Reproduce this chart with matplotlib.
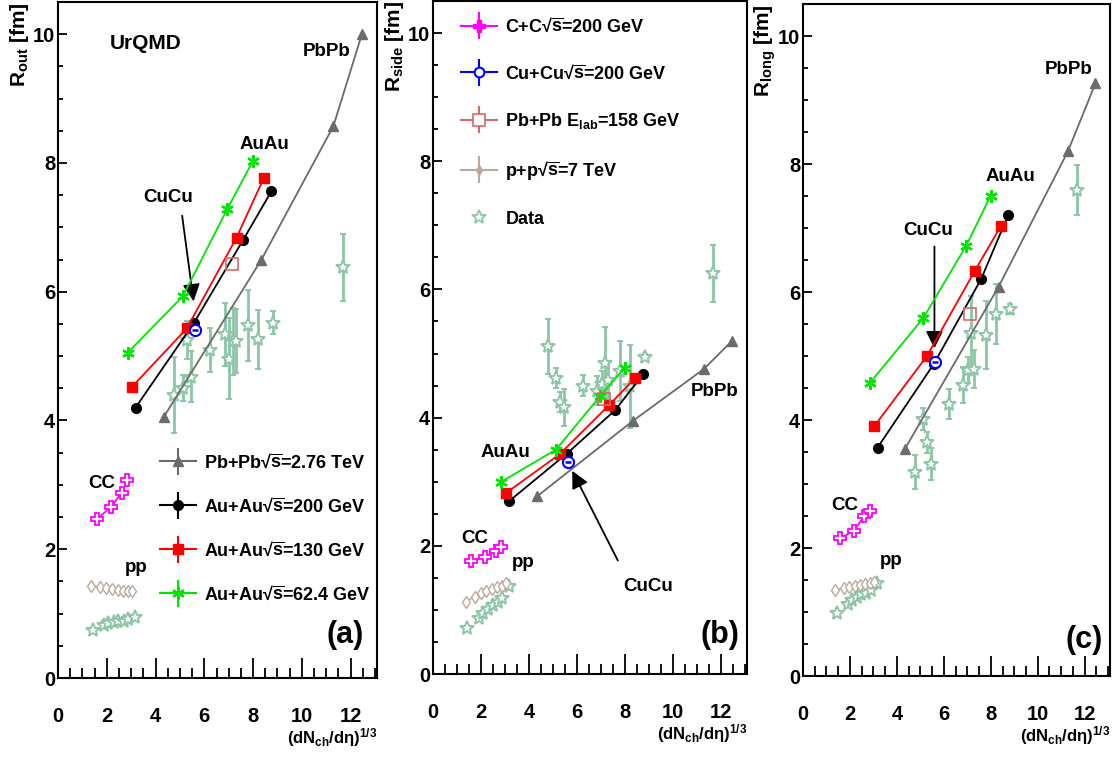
import numpy as np
import matplotlib
matplotlib.use("Agg")
import matplotlib.pyplot as plt
from matplotlib.lines import Line2D
from matplotlib.container import ErrorbarContainer
from matplotlib.legend_handler import HandlerErrorbar
from matplotlib.ticker import MultipleLocator

plt.rcParams['font.family'] = ['Liberation Sans', 'DejaVu Sans']
plt.rcParams['font.weight'] = 'bold'
plt.rcParams['mathtext.fontset'] = 'custom'
plt.rcParams['mathtext.rm'] = 'Liberation Sans:bold'
plt.rcParams['mathtext.it'] = 'Liberation Sans:italic:bold'
plt.rcParams['mathtext.bf'] = 'Liberation Sans:bold'
plt.rcParams['mathtext.sf'] = 'Liberation Sans:bold'

# ---------------- data ----------------
x_pbpb_lhc = [4.33, 8.33, 11.29, 12.46]
x_auau200 = [3.18, 5.58, 7.60, 8.75]
x_auau130 = [3.03, 5.28, 7.32, 8.43]
x_auau62 = [2.85, 5.12, 6.95, 7.99]
x_cc = [1.58, 2.17, 2.61, 2.84]
x_cucu = [5.63]
x_pbpb_sps = [7.12]
x_pp_model = [1.36, 1.73, 1.98, 2.21, 2.44, 2.66, 2.87, 3.04]
x_pp_data = [1.43, 1.90, 2.07, 2.28, 2.48, 2.69, 2.89, 3.17]
x_data = [4.77, 5.11, 5.29, 5.46, 6.24, 6.83, 7.02, 7.17, 7.28, 7.79, 8.22, 8.83, 11.68]

# R_out
rout_pbpb_lhc = [4.05, 6.49, 8.57, 10.0]
rout_auau200 = [4.20, 5.52, 6.81, 7.56]
rout_auau130 = [4.52, 5.43, 6.84, 7.76]
rout_auau62 = [5.05, 5.93, 7.29, 8.03]
rout_cc = [2.47, 2.65, 2.88, 3.07]
rout_cucu = [5.40]
rout_pbpb_sps = [6.43]
rout_pp_model = [1.43, 1.42, 1.40, 1.38, 1.36, 1.35, 1.35, 1.35]
rout_pp_data = [0.75, 0.83, 0.85, 0.87, 0.88, 0.89, 0.91, 0.95]
rout_data = [4.40, 4.51, 5.25, 4.68, 5.09, 5.34, 4.96, 5.23, 5.23, 5.48, 5.26, 5.52, 6.38]
rout_data_err = [0.59, 0.20, 0.29, 0.40, 0.34, 0.49, 0.63, 0.52, 0.50, 0.55, 0.46, 0.18, 0.52]

# R_side
rside_pbpb_lhc = [2.77, 3.95, 4.76, 5.20]
rside_auau200 = [2.70, 3.44, 4.12, 4.68]
rside_auau130 = [2.82, 3.43, 4.19, 4.62]
rside_auau62 = [3.00, 3.50, 4.33, 4.78]
rside_cc = [1.76, 1.83, 1.92, 1.98]
rside_cucu = [3.30]
rside_pbpb_sps = [4.29]
rside_pp_model = [1.13, 1.20, 1.26, 1.30, 1.33, 1.36, 1.38, 1.42]
rside_pp_data = [0.72, 0.87, 0.95, 1.02, 1.08, 1.13, 1.18, 1.37]
rside_data = [5.11, 4.62, 4.24, 4.16, 4.50, 4.42, 4.53, 4.85, 4.58, 4.73, 4.49, 4.95, 6.25]
rside_data_err = [0.43, 0.16, 0.16, 0.29, 0.17, 0.23, 0.20, 0.56, 0.30, 0.47, 0.65, 0.05, 0.44]

# R_long
rlong_pbpb_lhc = [3.54, 6.08, 8.20, 9.26]
rlong_auau200 = [3.57, 4.88, 6.21, 7.21]
rlong_auau130 = [3.90, 5.00, 6.33, 7.03]
rlong_auau62 = [4.58, 5.59, 6.72, 7.50]
rlong_cc = [2.15, 2.27, 2.50, 2.58]
rlong_cucu = [4.90]
rlong_pbpb_sps = [5.66]
rlong_pp_model = [1.35, 1.37, 1.39, 1.41, 1.42, 1.44, 1.45, 1.47]
rlong_pp_data = [0.98, 1.12, 1.18, 1.23, 1.28, 1.30, 1.35, 1.45]
rlong_data = [3.19, 4.02, 3.65, 3.31, 4.25, 4.55, 4.78, 5.36, 4.80, 5.33, 5.66, 5.73, 7.60]
rlong_data_err = [0.27, 0.17, 0.17, 0.25, 0.23, 0.28, 0.20, 0.58, 0.30, 0.53, 0.47, 0.08, 0.39]

SQ = '√$\\overline{\\mathbf{s}}$'
labels_a = ['Pb+Pb' + SQ + '=2.76 TeV', 'Au+Au' + SQ + '=200 GeV',
            'Au+Au' + SQ + '=130 GeV', 'Au+Au' + SQ + '=62.4 GeV']
labels_b = ['C+C' + SQ + '=200 GeV', 'Cu+Cu' + SQ + '=200 GeV',
            'Pb+Pb E$_{\\mathbf{lab}}$=158 GeV', 'p+p' + SQ + '=7 TeV', 'Data']

# ---------------- styles ----------------
C_PB = '#6b6b6b'
C_AU200 = 'black'
C_AU130 = '#ff0000'
C_AU62 = '#00e600'
C_CC = '#ff00ff'
C_CU = '#0000ff'
C_SPS = '#d46a6a'
C_PP = '#bcaa9c'
C_DATA = '#8cc6a6'

fig = plt.figure(figsize=(11.17, 7.57), dpi=100)
W, H = 1117.0, 757.0
axes_px = [(58, 377, 2, 678), (433, 747, 1, 674), (803, 1110, 4, 676)]
axes = []
for l, r, t, b in axes_px:
    axes.append(fig.add_axes([l / W, (H - b) / H, (r - l) / W, (b - t) / H]))

panels = [
    dict(pb=rout_pbpb_lhc, a200=rout_auau200, a130=rout_auau130, a62=rout_auau62, cc=rout_cc,
         cu=rout_cucu, sps=rout_pbpb_sps, ppm=rout_pp_model, ppd=rout_pp_data,
         d=rout_data, de=rout_data_err, sub='out'),
    dict(pb=rside_pbpb_lhc, a200=rside_auau200, a130=rside_auau130, a62=rside_auau62, cc=rside_cc,
         cu=rside_cucu, sps=rside_pbpb_sps, ppm=rside_pp_model, ppd=rside_pp_data,
         d=rside_data, de=rside_data_err, sub='side'),
    dict(pb=rlong_pbpb_lhc, a200=rlong_auau200, a130=rlong_auau130, a62=rlong_auau62, cc=rlong_cc,
         cu=rlong_cucu, sps=rlong_pbpb_sps, ppm=rlong_pp_model, ppd=rlong_pp_data,
         d=rlong_data, de=rlong_data_err, sub='long'),
]

ast = (6, 2, 0)
for ax, p in zip(axes, panels):
    ax.set_xlim(0, 13.08)
    ax.set_ylim(0, 10.5)
    # data
    ax.errorbar(x_data, p['d'], yerr=p['de'], fmt='*', ms=10, mfc='white', mec=C_DATA, mew=1.4,
                ecolor=C_DATA, elinewidth=2, capsize=2.5, capthick=1.5, zorder=2)
    ax.plot(x_pp_data, p['ppd'], '*', ms=10, mfc='white', mec=C_DATA, mew=1.4, zorder=2)
    # models
    ax.plot(x_pbpb_lhc, p['pb'], '-^', color=C_PB, ms=7, lw=1.3, zorder=3)
    ax.plot(x_auau200, p['a200'], '-o', color=C_AU200, ms=7, lw=1.3, zorder=4)
    ax.plot(x_auau130, p['a130'], '-s', color=C_AU130, ms=7, lw=1.3, zorder=4)
    ax.plot(x_auau62, p['a62'], '-', color=C_AU62, marker=ast, ms=9, mew=1.6, lw=1.3, zorder=4)
    ax.plot(x_cc, p['cc'], '-P', color=C_CC, mfc='white', mec=C_CC, ms=9, mew=1.3, lw=1.3, zorder=4)
    ax.plot(x_pp_model, p['ppm'], '-d', color=C_PP, mfc='white', mec=C_PP, ms=6, mew=1.0, lw=1.0, zorder=4)
    ax.plot(x_pbpb_sps, p['sps'], 's', mfc='none', mec=C_SPS, ms=9, mew=1.2, zorder=5)
    ax.plot(x_cucu, p['cu'], 'o', mfc='white', mec=C_CU, ms=8, mew=1.5, zorder=6)
    ax.plot(x_cucu, p['cu'], '_', color=C_CU, ms=4, mew=1.8, zorder=7)

    ax.xaxis.set_major_locator(MultipleLocator(2))
    ax.xaxis.set_minor_locator(MultipleLocator(0.5))
    ax.yaxis.set_major_locator(MultipleLocator(2))
    ax.yaxis.set_minor_locator(MultipleLocator(0.5))
    ax.tick_params(axis='x', which='major', direction='in', length=14.5, width=1.3, pad=21,
                   labelsize=14.5, top=False)
    ax.tick_params(axis='x', which='minor', direction='in', length=7.2, width=1.3, top=False)
    ax.tick_params(axis='y', which='major', direction='in', length=6.5, width=1.3, pad=2,
                   labelsize=14.5, right=False)
    ax.tick_params(axis='y', which='minor', direction='in', length=3.8, width=1.3, right=False)
    for sp in ax.spines.values():
        sp.set_linewidth(1.5)
    for lab in ax.get_xticklabels() + ax.get_yticklabels():
        lab.set_fontweight('bold')
    ax.text(-0.122, 1.0, '$\\mathbf{R_{%s}}$ [fm]' % p['sub'], transform=ax.transAxes,
            rotation=90, ha='center', va='top', fontsize=15, fontweight='bold')
    ax.text(1.0, -0.088, '$\\mathbf{(dN_{ch}/d\\eta)^{1/3}}$', transform=ax.transAxes,
            ha='right', va='center', fontsize=12, fontweight='bold')

ax_a, ax_b, ax_c = axes
tk = dict(fontsize=13.5, fontweight='bold', ha='center', va='center')
arrow = dict(arrowstyle='-|>', color='black', lw=1.3, mutation_scale=26, shrinkA=0, shrinkB=0)

# panel a
ax_a.text(2.12, 9.86, 'UrQMD', fontsize=15, fontweight='bold', ha='left', va='center')
ax_a.text(11.0, 9.73, 'PbPb', **tk)
ax_a.text(8.48, 8.28, 'AuAu', **tk)
ax_a.text(4.5, 7.46, 'CuCu', **tk)
ax_a.text(1.8, 3.02, 'CC', **tk)
ax_a.text(3.2, 1.71, 'pp', **tk)
ax_a.text(11.78, 0.67, '(a)', fontsize=22, fontweight='bold', ha='center', va='center')
ax_a.annotate('', xy=(5.56, 5.85), xytext=(5.09, 7.18), arrowprops=arrow)

# panel b
ax_b.text(11.73, 4.41, 'PbPb', **tk)
ax_b.text(3.03, 3.46, 'AuAu', **tk)
ax_b.text(8.95, 1.36, 'CuCu', **tk)
ax_b.text(1.73, 2.12, 'CC', **tk)
ax_b.text(3.77, 1.74, 'pp', **tk)
ax_b.text(11.94, 0.61, '(b)', fontsize=22, fontweight='bold', ha='center', va='center')
ax_b.annotate('', xy=(5.8, 3.17), xytext=(7.7, 1.77), arrowprops=arrow)

# panel c
ax_c.text(11.33, 9.48, 'PbPb', **tk)
ax_c.text(8.85, 7.80, 'AuAu', **tk)
ax_c.text(5.34, 6.96, 'CuCu', **tk)
ax_c.text(1.77, 2.67, 'CC', **tk)
ax_c.text(3.74, 1.80, 'pp', **tk)
ax_c.text(11.97, 0.57, '(c)', fontsize=22, fontweight='bold', ha='center', va='center')
ax_c.annotate('', xy=(5.6, 5.12), xytext=(5.6, 6.71), arrowprops=arrow)

# legends (proxy handles)
def proxy(ax, **kw):
    return ax.errorbar([np.nan], [np.nan], yerr=[1.0], lw=1.5, elinewidth=1.5, **kw)

ha = [proxy(ax_a, color=C_PB, marker='^', ms=7),
      proxy(ax_a, color=C_AU200, marker='o', ms=7),
      proxy(ax_a, color=C_AU130, marker='s', ms=7),
      proxy(ax_a, color=C_AU62, marker=ast, ms=9, mew=1.6)]
hm = {ErrorbarContainer: HandlerErrorbar(xerr_size=0.75)}
ax_a.legend(ha, labels_a, loc='upper left', bbox_to_anchor=(0.32, 0.332), frameon=False,
            fontsize=13, handlelength=2.0, handletextpad=0.45, labelspacing=1.43,
            borderpad=0, borderaxespad=0, handler_map=hm)

hb = [proxy(ax_b, color=C_CC, marker='P', ms=8),
      proxy(ax_b, color=C_CU, marker='o', mfc='white', ms=7, mew=1.5),
      proxy(ax_b, color=C_SPS, marker='s', mfc='white', ms=8, mew=1.2),
      proxy(ax_b, color=C_PP, marker='d', ms=5),
      Line2D([], [], ls='none', marker='*', ms=10, mfc='white', mec=C_DATA, mew=1.3)]
ax_b.legend(hb, labels_b, loc='upper left', bbox_to_anchor=(0.09, 0.975), frameon=False,
            fontsize=13, handlelength=2.0, handletextpad=0.45, labelspacing=1.57,
            borderpad=0, borderaxespad=0, handler_map=hm)

fig.savefig('out.png', dpi=100)
